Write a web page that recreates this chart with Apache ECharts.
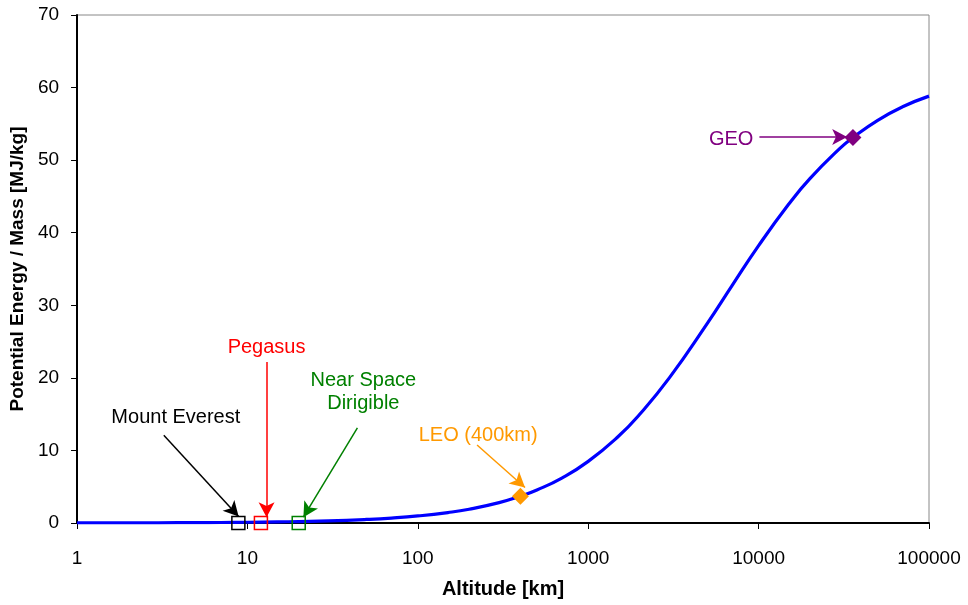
<!DOCTYPE html>
<html><head><meta charset="utf-8">
<script src="https://cdn.jsdelivr.net/npm/echarts@6/dist/echarts.min.js"></script>
<style>html,body{margin:0;padding:0;background:#fff}#c{width:968px;height:605px}</style>
</head><body><div id="c"></div>
<script>
// Altitude [km] and potential energy per mass [MJ/kg]
const altitudes = [1,2,3,5,7,10,15,20,30,50,70,100,150,200,300,400,500,700,1000,1500,2000,3000,5000,7000,10000,15000,20000,30000,35786,50000,70000,100000];
const energies  = [0.01,0.02,0.03,0.05,0.07,0.10,0.15,0.20,0.29,0.49,0.68,0.97,1.44,1.90,2.81,3.70,4.55,6.19,8.49,11.92,14.95,20.03,27.51,32.75,38.22,43.91,47.45,51.61,53.11,55.49,57.35,58.82];

const pointNames = ['Mount Everest','Pegasus','Near Space Dirigible','LEO (400km)','GEO'];
const pointAlt   = [8.848, 12, 20, 400, 35786];
const pointVal   = [0, 0, 0, 3.70, 53.11];
const pointColors = ['#000000','#FF0000','#008000','#FF9900','#800080'];

// annotation label positions [alt, value] and arrows [from, to]
const labelText = ['Mount Everest','Pegasus','Near Space\nDirigible','LEO (400km)','GEO'];
const labelPos  = [[3.8,14.5],[12.95,24.2],[47.9,18.0],[226,12.0],[6900,52.8]];
const arrowFrom = [[3.23,12.1],[12.95,22.2],[44.2,13.1],[222.6,10.75],[10110,53.2]];
const arrowTo   = [[8.88,0.9],[12.95,0.8],[21.3,0.8],[425.6,4.9],[33100,53.2]];

const FONT = '"Liberation Sans", Arial, sans-serif';
const chart = echarts.init(document.getElementById('c'));

const series = [{
  type:'line', data: altitudes.map((a,i)=>[a,energies[i]]), smooth:true, showSymbol:false,
  lineStyle:{color:'#0000FF', width:3.2}, z:2
}];
pointNames.forEach((n,i)=>{
  const hollow = i<3;
  series.push({
    type:'scatter', name:n, data:[[pointAlt[i], pointVal[i]]],
    symbol: hollow ? 'rect' : 'diamond', symbolSize: hollow ? 13 : 17,
    itemStyle: hollow ? {color:'rgba(0,0,0,0)', borderColor:pointColors[i], borderWidth:1.5, opacity:1}
                      : {color:pointColors[i], opacity:1},
    z:4,
    markLine:{silent:true, symbol:['none','arrow'], symbolSize:[12,15], precision:6,
      label:{show:false},
      lineStyle:{color:pointColors[i], width:1.5, type:'solid', opacity:1},
      emphasis:{disabled:true},
      data:[[{coord:arrowFrom[i]},{coord:arrowTo[i]}]]
    }
  });
  series.push({
    type:'scatter', data:[labelPos[i]], symbolSize:0, z:5,
    itemStyle:{opacity:1},
    label:{show:true, position:'inside', formatter:labelText[i], color:pointColors[i], opacity:1,
      fontFamily:FONT, fontSize:20, align:'center', verticalAlign:'middle', lineHeight:23}
  });
});

chart.setOption({
  animation:false,
  grid:{left:76, right:39, top:15, bottom:82, show:true, borderColor:'#888', borderWidth:1},
  xAxis:{type:'log', logBase:10, min:1, max:100000,
    name:'Altitude [km]', nameLocation:'middle', nameGap:56,
    nameTextStyle:{fontFamily:FONT, fontWeight:'bold', fontSize:20, color:'#000'},
    axisLine:{lineStyle:{color:'#000', width:2}},
    axisTick:{show:true, length:6, lineStyle:{color:'#000'}},
    minorTick:{show:false}, splitLine:{show:false},
    axisLabel:{fontFamily:FONT, fontSize:19, color:'#000', margin:26, formatter:v=>String(Math.round(v))}
  },
  yAxis:{type:'value', min:0, max:70, interval:10,
    name:'Potential Energy / Mass [MJ/kg]', nameLocation:'middle', nameGap:45,
    nameTextStyle:{fontFamily:FONT, fontWeight:'bold', fontSize:19, color:'#000'},
    axisLine:{show:true, lineStyle:{color:'#000', width:2}},
    axisTick:{show:true, length:6, lineStyle:{color:'#000'}},
    splitLine:{show:false},
    axisLabel:{fontFamily:FONT, fontSize:19, color:'#000', margin:18}
  },
  series: series
});
</script></body></html>
